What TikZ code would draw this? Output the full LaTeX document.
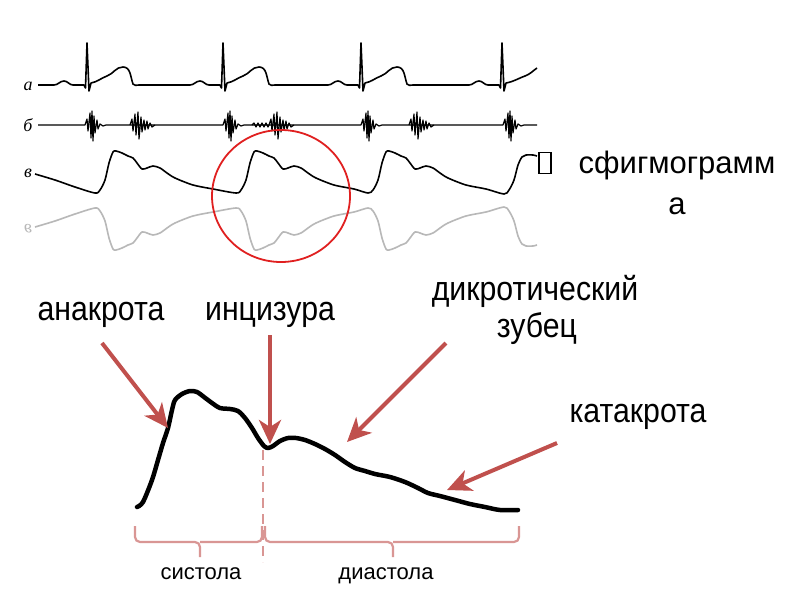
\documentclass[tikz,border=0pt]{standalone}
\usepackage{fontspec}
\setmainfont{Liberation Sans}
\newfontfamily\narrowfont{Liberation Sans}[FakeStretch=0.89]
\newfontfamily\labserif{Liberation Serif}
\usetikzlibrary{arrows.meta}
\definecolor{arrred}{HTML}{C0504D}
\definecolor{brpink}{HTML}{D99694}
\definecolor{circred}{HTML}{E02020}
\tikzset{
  trace/.style={line width=1.6pt, black, line join=round},
  reflect/.style={line width=1.6pt, black!28, line join=round},
  pointer/.style={line width=4pt, arrred, -{Stealth[length=24pt,width=22pt,inset=7pt]}},
  bigword/.style={font=\narrowfont\fontsize{34}{38}\selectfont, inner sep=0pt, anchor=base},
  phase/.style={font=\fontsize{22}{26}\selectfont, inner sep=0pt, anchor=base},
  tracelabel/.style={font=\labserif\itshape\fontsize{18}{20}\selectfont, inner sep=0pt},
  bracket/.style={line width=2.2pt, brpink, rounded corners=5pt},
  glyphbox/.style={draw, line width=1.3pt, minimum width=12pt, minimum height=21pt, inner sep=0pt},
}
\newcommand\pulsetrace[1]{%
  \draw[#1] plot[smooth, tension=0.5] coordinates {
    (35,174) (55,180) (75,187) (95,193)
    (100,190) (105,180) (109,163) (113,152) (116,151) (122,153) (128,156) (133,158) (137,163) (142,169) (147,168) (153,166) (160,168) (167,173) (175,178) (193,185) (213,189)
    (236,193) (241,190) (246,180) (250,163) (254,152) (257,151) (263,153) (269,156) (274,158) (278,163) (283,169) (288,168) (294,166) (301,168) (308,173) (316,178) (334,185) (354,189)
    (368,193) (373,190) (378,180) (382,163) (386,152) (389,151) (395,153) (401,156) (406,158) (410,163) (415,169) (420,168) (426,166) (433,168) (440,173) (448,178) (466,185) (486,189)
    (504,194) (509,190) (514,180) (518,165) (522,157) (526,155) (533,155) (537,156)
  };}
\begin{document}
\begin{tikzpicture}[x=1pt,y=-1pt]
\fill[white] (0,0) rectangle (800,600);
\useasboundingbox (0,0) rectangle (800,600);

% --- trace labels
\node[tracelabel] (la) at (28,86) {а};
\node[tracelabel] (lb) at (28,125) {б};
\node[tracelabel] (lv) at (28,173) {в};
\node[tracelabel, text=black!28, yscale=-1] (lg) at (28,229) {в};

% --- ECG (a)
\draw[trace] (38,85)
  \foreach \R in {87,223,361} {
   -- ({\R-33},85) to[out=0,in=180] ({\R-23},81) to[out=0,in=180] ({\R-14},85)
   -- ({\R-3},85) -- ({\R-1.5},88) -- (\R,43) -- ({\R+2},91) -- ({\R+4},83)
   to[out=10,in=200] ({\R+20},76) to[out=20,in=180] ({\R+36},67)
   to[out=0,in=110] ({\R+46},84) to[out=-70,in=180] ({\R+52},85)
  }
  -- (469,85) to[out=0,in=180] (479,81) to[out=0,in=180] (488,85)
  -- (499,85) -- (500.5,88) -- (502,43) -- (504,91) -- (506,83)
  to[out=10,in=200] (525,76) to[out=20,in=215] (537,68);

% --- phonocardiogram (b)
\draw[trace, line width=1.2pt] (38,125)
  \foreach \S in {92,230,368,510} {
   -- ({\S-7},125) -- ({\S-5},119) -- ({\S-4},131) -- ({\S-2},113) -- ({\S-1},138)
   -- (\S,111) -- ({\S+1},141) -- ({\S+2},116) -- ({\S+3},133) -- ({\S+5},120) -- ({\S+6},129) -- ({\S+8},124) -- ({\S+11},126) -- ({\S+14},125)
  }
  -- (537,125);
\draw[trace, line width=1.2pt]
  \foreach \S in {138,277,417} {
   ({\S-8},125) -- ({\S-6},119) -- ({\S-5},131) -- ({\S-3},114) -- ({\S-2},135) -- (\S,112) -- ({\S+1},139) -- ({\S+3},117) -- ({\S+4},132) -- ({\S+6},120) -- ({\S+7},130) -- ({\S+9},121) -- ({\S+10},129) -- ({\S+12},123) -- ({\S+14},127) -- ({\S+17},125)
  };
\draw[trace, line width=1.2pt] (252,125) -- (254,123) -- (256,127) -- (258,123) -- (260,127) -- (262,123) -- (264,127) -- (266,123) -- (268,127) -- (269,125);

% --- sphygmogram (v) and its reflection
\pulsetrace{trace}
\begin{scope}[shift={(0,401)}, yscale=-1]
\pulsetrace{reflect}
\end{scope}

% --- red circle
\draw[circred, line width=1.8pt] (281,196) ellipse [x radius=69, y radius=66];

% --- title
\node[glyphbox] (box) at (545,163) {};
\node[font=\fontsize{31}{34}\selectfont, inner sep=0pt, anchor=base] (title1) at (677,173) {сфигмограмм};
\node[font=\fontsize{31}{34}\selectfont, inner sep=0pt, anchor=base] (title2) at (677,214) {а};

% --- labels
\node[bigword] (ana) at (101,320) {анакрота};
\node[bigword] (inc) at (270,320) {инцизура};
\node[bigword] (dik1) at (535,300) {дикротический};
\node[bigword] (dik2) at (537,337) {зубец};
\node[bigword] (kat) at (638,422) {катакрота};

% --- pulse wave
\draw[line width=4.5pt, line join=round, line cap=round] plot[smooth, tension=0.5] coordinates {
 (137,507) (143,502) (152,480) (158,460) (163,443) (168,428) (172,410) (175,400) (182,394) (190,391) (197,392)
 (204,397) (212,403) (220,408) (230,409) (238,411) (245,418) (252,428) (258,438) (264,446) (268,448)
 (273,446) (280,441) (288,438) (296,438) (305,440) (315,444) (325,449) (335,455) (345,462) (355,468)
 (365,471) (375,474) (390,477) (405,482) (418,488) (428,493) (440,496) (455,500) (470,504) (485,507) (500,510) (518,510)};

% --- arrows
\coordinate (anaS) at (102,343); \coordinate (anaT) at (168,428);
\coordinate (incS) at (270,335); \coordinate (incT) at (270,444);
\coordinate (dikS) at (446,343); \coordinate (dikT) at (347,442);
\coordinate (katS) at (557,443); \coordinate (katT) at (447,490);
\draw[pointer] (anaS) -- (anaT);
\draw[pointer] (incS) -- (incT);
\draw[pointer] (dikS) -- (dikT);
\draw[pointer] (katS) -- (katT);

% --- dashed divider and brackets
\coordinate (divT) at (263,450); \coordinate (divB) at (263,562);
\draw[brpink, line width=2.2pt, dash pattern=on 10pt off 6pt] (divT) -- (divB);
\draw[bracket] (135,526) |- (200,542) -- (200,557);
\draw[bracket] (262,526) |- (200,542);
\draw[bracket] (265,526) |- (393,542) -- (393,557);
\draw[bracket] (519,526) |- (393,542);

\node[phase] (sys) at (201,579) {систола};
\node[phase] (dia) at (386,579) {диастола};
\end{tikzpicture}
\end{document}
